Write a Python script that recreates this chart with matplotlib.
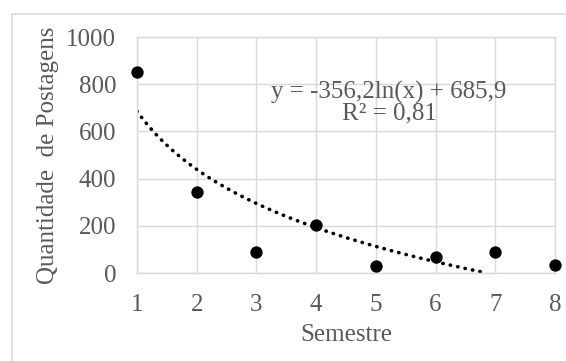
import matplotlib.pyplot as plt
import numpy as np
from matplotlib.patches import Rectangle

# dados
semestre = [1, 2, 3, 4, 5, 6, 7, 8]
postagens = [852, 343, 89, 203, 28, 69, 89, 33]

# coeficientes da linha de tendência logarítmica (do rótulo)
coef_a = -356.2
coef_b = 685.9
r2_label = "R² = 0,81"
eq_label = "y = -356,2ln(x) + 685,9"

plt.rcParams['font.family'] = ['Liberation Serif', 'DejaVu Serif']
cinza = '#595959'
grade = '#d9d9d9'
fs = 18

fig = plt.figure(figsize=(5.66, 3.61), dpi=100)
fig.patches.append(Rectangle((12 / 566, -0.1), 1.2, 1 - 14 / 361 + 0.1,
                             transform=fig.transFigure, fill=False,
                             edgecolor=grade, linewidth=1.2))

ax = fig.add_axes([137 / 566, 1 - 273 / 361, (555 - 137) / 566, (273 - 37) / 361])

# linha de tendência até y = 0
x_fim = np.exp(-coef_b / coef_a)
xt = np.linspace(1, x_fim, 200)
yt = coef_a * np.log(xt) + coef_b
ax.plot(xt, yt, color='black', linewidth=2.6, linestyle=(0, (0.1, 2.0)),
        dash_capstyle='round')

ax.scatter(semestre, postagens, s=62, color='black', zorder=3, clip_on=False)

ax.set_xlim(1, 8)
ax.set_ylim(0, 1000)
ax.set_xticks(semestre)
ax.set_yticks(range(0, 1001, 200))
ax.grid(True, color=grade, linewidth=1)
ax.set_axisbelow(True)
for s in ax.spines.values():
    s.set_color(grade)
    s.set_linewidth(1)
ax.tick_params(length=0, labelsize=fs, labelcolor=cinza, pad=15)

ax.set_xlabel('Semestre', fontsize=fs, color=cinza, labelpad=6)
ax.set_ylabel('Quantidade  de Postagens', fontsize=fs, color=cinza, labelpad=5)

ax.text(5.22, 722, eq_label + "\n" + r2_label, ha='center', va='center',
        fontsize=fs, color=cinza, multialignment='center', linespacing=0.95)

fig.savefig('out.png', dpi=100)
